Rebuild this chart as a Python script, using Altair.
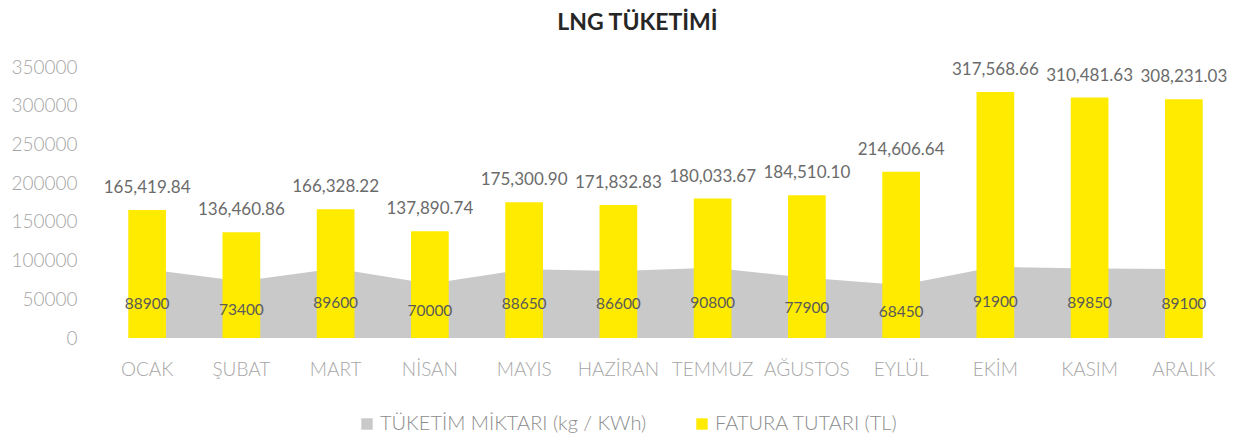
import altair as alt
import pandas as pd

months = ["OCAK", "ŞUBAT", "MART", "NİSAN", "MAYIS", "HAZİRAN", "TEMMUZ",
          "AĞUSTOS", "EYLÜL", "EKİM", "KASIM", "ARALIK"]
tuketim = [88900, 73400, 89600, 70000, 88650, 86600, 90800, 77900, 68450,
           91900, 89850, 89100]
fatura = [165419.84, 136460.86, 166328.22, 137890.74, 175300.90, 171832.83,
          180033.67, 184510.10, 214606.64, 317568.66, 310481.63, 308231.03]

S1 = "TÜKETİM MİKTARI (kg / KWh)"
S2 = "FATURA TUTARI (TL)"
y_ticks = [0, 50000, 100000, 150000, 200000, 250000, 300000, 350000]

rows = []
for m, t, f in zip(months, tuketim, fatura):
    rows.append({"ay": m, "seri": S1, "deger": t})
    rows.append({"ay": m, "seri": S2, "deger": f})
df = pd.DataFrame(rows)

FONT = "Lato"
GRAY = "#c9c9c9"
YELLOW = "#FFEB00"

x = alt.X("ay:N", sort=months, title=None,
          scale=alt.Scale(paddingInner=0.6, paddingOuter=0.3),
          axis=alt.Axis(labelAngle=0, labelFontSize=19, labelColor="#a6a6a6",
                        labelFont=FONT, labelFontWeight=300, labelPadding=22,
                        ticks=False, domain=False, grid=False))
y_scale = alt.Scale(domain=[0, 350000], nice=False)
y_axis = alt.Axis(values=y_ticks, format="d", labelFontSize=19,
                  labelColor="#a6a6a6", labelFont=FONT,
                  labelFontWeight=300, ticks=False, labelOverlap=False,
                  domain=False, grid=False, labelPadding=23)
y = alt.Y("deger:Q", title=None, scale=y_scale, axis=y_axis)
y_half = alt.Y("half:Q", title=None, scale=y_scale, axis=y_axis)

color = alt.Color("seri:N", title=None,
                  scale=alt.Scale(domain=[S1, S2], range=[GRAY, YELLOW]),
                  legend=alt.Legend(orient="none", legendX=257, legendY=347,
                                    direction="horizontal",
                                    symbolType="square", symbolSize=130,
                                    symbolStrokeWidth=0, labelOffset=3,
                                    labelFontSize=20, labelColor="#8c8c8c",
                                    labelFont=FONT, labelFontWeight=300,
                                    columnPadding=45, labelLimit=400))

base = alt.Chart(df)

area = base.transform_filter(alt.datum.seri == S1).mark_area(
    opacity=1).encode(x=x, y=y, color=color)

bars = base.transform_filter(alt.datum.seri == S2).mark_bar().encode(
    x=x, y=y, color=color)

bar_text = base.transform_filter(alt.datum.seri == S2).mark_text(
    dy=-22, fontSize=17, color="#6b6b6b", font=FONT).encode(
    x=x, y=y, text=alt.Text("deger:Q", format=",.2f"))

area_text = base.transform_filter(alt.datum.seri == S1).transform_calculate(
    half="datum.deger / 2").mark_text(
    fontSize=15.5, color="#5a5a5a", font=FONT).encode(
    x=x, y=y_half, text=alt.Text("deger:Q", format="d"))

chart = alt.layer(area, bars, bar_text, area_text).properties(
    width=1131, height=271,
    title=alt.TitleParams("LNG TÜKETİMİ", fontSize=23, fontWeight="bold",
                          font=FONT, color="#262626", offset=23,
                          anchor="middle", dx=-28),
    padding={"left": 2, "top": 4, "right": 5, "bottom": 5},
).configure_view(strokeWidth=0).configure_axisY(labelOverlap=False)

chart.save("out.html", embed_options={"renderer": "svg", "actions": False})
